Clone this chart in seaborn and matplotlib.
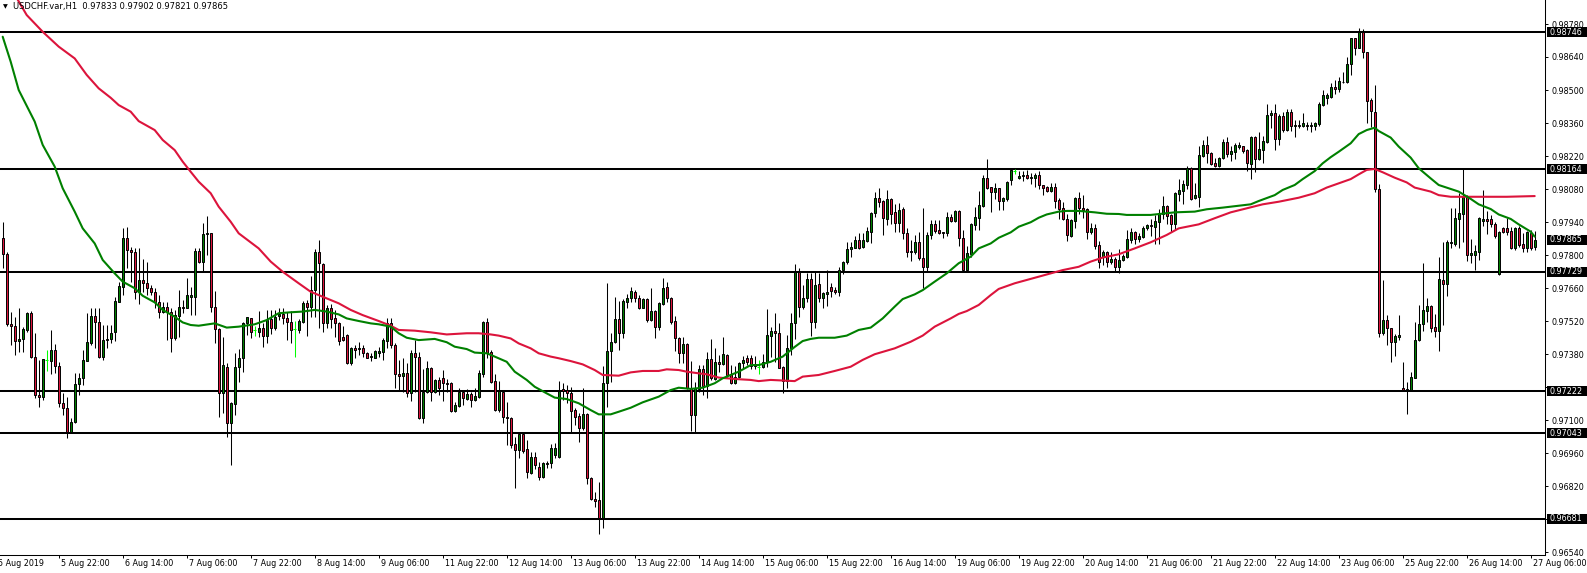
import numpy as np
import pandas as pd
import matplotlib
matplotlib.use("Agg")
import matplotlib.pyplot as plt
import matplotlib.transforms as mtransforms
from matplotlib.patches import Rectangle
import seaborn as sns

# ---------------- data: USDCHF H1, prices in points (1e-5) ----------------
POINT = 1e-5
symbol = "USDCHF.var,H1"

opens = [
 97871, 97803, 97506, 97500, 97435, 97444, 97482, 97553, 97369, 97206, 97196, 97355, 97352, 97397, 97330, 97171,
 97152, 97050, 97090, 97251, 97277, 97352, 97425, 97541, 97517, 97369, 97438, 97444, 97472, 97602, 97666, 97871,
 97821, 97814, 97642, 97694, 97683, 97659, 97644, 97602, 97557, 97579, 97560, 97446, 97543, 97579, 97574, 97623,
 97623, 97817, 97772, 97889, 97892, 97581, 97485, 97213, 97326, 97086, 97166, 97326, 97362, 97510, 97531, 97482,
 97472, 97489, 97458, 97528, 97492, 97543, 97550, 97534, 97517, 97486, 97482, 97517, 97595, 97578, 97651, 97811,
 97760, 97510, 97574, 97531, 97510, 97452, 97461, 97343, 97404, 97400, 97404, 97383, 97366, 97364, 97383, 97387,
 97435, 97510, 97418, 97297, 97288, 97298, 97213, 97383, 97369, 97107, 97220, 97322, 97220, 97270, 97277, 97258,
 97256, 97138, 97161, 97220, 97189, 97209, 97185, 97199, 97295, 97514, 97387, 97265, 97142, 97220, 97114, 97110,
 96997, 96973, 97039, 96977, 96874, 96944, 96902, 96860, 96912, 96916, 96951, 96944, 97232, 97227, 97213, 97142,
 97117, 97068, 97124, 96855, 96765, 96761, 96683, 97256, 97393, 97430, 97528, 97468, 97602, 97616, 97642, 97616,
 97577, 97613, 97524, 97562, 97496, 97591, 97663, 97616, 97520, 97449, 97383, 97421, 97237, 97121, 97232, 97316,
 97246, 97359, 97274, 97345, 97336, 97376, 97294, 97256, 97284, 97340, 97364, 97362, 97330, 97326, 97326, 97347,
 97458, 97477, 97468, 97326, 97265, 97404, 97510, 97726, 97581, 97616, 97698, 97514, 97676, 97619, 97633, 97666,
 97651, 97642, 97736, 97769, 97824, 97831, 97864, 97835, 97859, 97899, 97977, 98043, 98029, 97953, 98036, 97981,
 97934, 97995, 97892, 97817, 97811, 97856, 97786, 97750, 97885, 97930, 97906, 97896, 97892, 97963, 97944, 97987,
 97871, 97736, 97803, 97927, 97958, 98009, 98125, 98088, 98066, 98083, 98029, 98037, 98118, 98156, 98125, 98136,
 98139, 98127, 98128, 98139, 98097, 98090, 98071, 98090, 98033, 97998, 97953, 97882, 97944, 98043, 98001, 97995,
 97896, 97916, 97842, 97793, 97814, 97769, 97783, 97750, 97779, 97793, 97864, 97896, 97868, 97878, 97913, 97927,
 97920, 97941, 97974, 98009, 97970, 97930, 98059, 98071, 98097, 98168, 98040, 98047, 98221, 98267, 98231, 98190,
 98179, 98210, 98278, 98227, 98238, 98260, 98262, 98245, 98185, 98302, 98207, 98245, 98281, 98394, 98401, 98292,
 98391, 98330, 98405, 98347, 98351, 98349, 98351, 98349, 98349, 98357, 98436, 98467, 98472, 98514, 98504, 98532,
 98532, 98609, 98719, 98679, 98747, 98660, 98457, 98408, 98080, 97468, 97524, 97489, 97430, 97453, 97237, 97227,
 97227, 97280, 97439, 97506, 97562, 97584, 97496, 97477, 97694, 97676, 97849, 97845, 97953, 97972, 98047, 97800,
 97800, 97814, 97944, 97953, 97953, 97930, 97718, 97913, 97916, 97902, 97831, 97913, 97845, 97831, 97892, 97833,
]

highs = [
 97939, 97811, 97560, 97538, 97574, 97496, 97560, 97562, 97468, 97355, 97359, 97397, 97482, 97421, 97347, 97213,
 97199, 97110, 97298, 97298, 97397, 97553, 97574, 97574, 97577, 97503, 97503, 97503, 97623, 97687, 97916, 97919,
 97835, 97831, 97828, 97783, 97772, 97673, 97659, 97630, 97602, 97599, 97574, 97567, 97651, 97609, 97701, 97666,
 97828, 97828, 97934, 97965, 97892, 97647, 97489, 97453, 97340, 97178, 97383, 97400, 97514, 97538, 97531, 97500,
 97562, 97510, 97567, 97567, 97567, 97574, 97574, 97560, 97562, 97520, 97528, 97605, 97609, 97711, 97825, 97864,
 97765, 97588, 97591, 97567, 97517, 97500, 97463, 97411, 97418, 97432, 97418, 97390, 97383, 97397, 97411, 97446,
 97534, 97531, 97425, 97355, 97364, 97340, 97397, 97439, 97387, 97316, 97350, 97326, 97273, 97284, 97312, 97274,
 97263, 97178, 97237, 97227, 97232, 97220, 97237, 97312, 97520, 97534, 97397, 97294, 97265, 97223, 97178, 97114,
 97029, 97050, 97050, 97015, 96966, 96966, 96923, 96923, 96926, 96997, 97001, 97265, 97256, 97248, 97241, 97150,
 97128, 97234, 97128, 96860, 96796, 96838, 97330, 97680, 97468, 97623, 97605, 97613, 97633, 97666, 97651, 97630,
 97619, 97619, 97659, 97567, 97602, 97701, 97687, 97623, 97543, 97453, 97453, 97425, 97350, 97263, 97333, 97333,
 97390, 97444, 97404, 97376, 97453, 97379, 97333, 97330, 97347, 97373, 97376, 97376, 97373, 97355, 97379, 97571,
 97496, 97553, 97510, 97330, 97461, 97553, 97760, 97746, 97673, 97722, 97722, 97726, 97722, 97644, 97736, 97680,
 97666, 97750, 97774, 97854, 97856, 97882, 97892, 97892, 97920, 97984, 98066, 98086, 98033, 98076, 98043, 98015,
 98019, 98005, 97913, 97864, 97885, 97899, 98001, 97896, 97948, 97948, 97948, 97899, 97984, 97972, 97991, 97991,
 97906, 97840, 97934, 98005, 98071, 98139, 98207, 98090, 98104, 98086, 98047, 98114, 98165, 98165, 98156, 98156,
 98160, 98146, 98146, 98156, 98097, 98094, 98104, 98104, 98043, 98023, 97972, 97953, 98047, 98066, 98054, 98001,
 97934, 97930, 97859, 97821, 97817, 97811, 97793, 97825, 97803, 97906, 97913, 97902, 97892, 97924, 97930, 97953,
 97970, 97995, 98052, 98012, 97972, 98066, 98122, 98118, 98179, 98175, 98104, 98264, 98288, 98306, 98235, 98213,
 98217, 98292, 98302, 98264, 98274, 98278, 98264, 98250, 98306, 98306, 98320, 98306, 98439, 98415, 98439, 98397,
 98405, 98419, 98419, 98373, 98373, 98401, 98363, 98363, 98366, 98448, 98500, 98486, 98528, 98542, 98556, 98578,
 98641, 98722, 98722, 98764, 98759, 98662, 98464, 98521, 98100, 97694, 97545, 97492, 97463, 97545, 97345, 97263,
 97305, 97517, 97588, 97765, 97619, 97588, 97548, 97793, 97856, 97864, 98001, 98001, 98062, 98165, 98054, 97868,
 97842, 97963, 98076, 97987, 97970, 97939, 97902, 97919, 97956, 97920, 97920, 97924, 97892, 97902, 97906, 97902,
]

lows = [
 97743, 97500, 97418, 97376, 97387, 97387, 97475, 97362, 97192, 97157, 97185, 97308, 97294, 97298, 97157, 97121,
 97025, 97043, 97086, 97206, 97248, 97352, 97418, 97404, 97362, 97355, 97404, 97425, 97435, 97599, 97630, 97743,
 97687, 97613, 97591, 97644, 97630, 97630, 97574, 97531, 97553, 97439, 97390, 97439, 97453, 97553, 97574, 97545,
 97545, 97765, 97729, 97800, 97560, 97425, 97114, 97128, 97029, 96909, 97121, 97263, 97305, 97461, 97449, 97458,
 97453, 97411, 97425, 97463, 97482, 97524, 97506, 97439, 97425, 97369, 97468, 97510, 97458, 97538, 97538, 97489,
 97475, 97489, 97492, 97453, 97418, 97435, 97336, 97333, 97362, 97376, 97369, 97362, 97350, 97362, 97369, 97355,
 97404, 97404, 97237, 97227, 97220, 97199, 97181, 97220, 97104, 97086, 97213, 97181, 97213, 97206, 97181, 97220,
 97135, 97135, 97157, 97164, 97185, 97157, 97181, 97195, 97284, 97364, 97256, 97138, 97135, 97086, 96994, 96980,
 96810, 96937, 96959, 96855, 96869, 96892, 96845, 96855, 96895, 96895, 96937, 96940, 97185, 97171, 97043, 97079,
 97008, 97058, 96827, 96761, 96732, 96615, 96640, 97157, 97263, 97425, 97397, 97449, 97577, 97602, 97599, 97571,
 97574, 97514, 97520, 97446, 97482, 97588, 97602, 97506, 97393, 97340, 97340, 97232, 97053, 97043, 97217, 97206,
 97192, 97270, 97270, 97305, 97333, 97284, 97251, 97251, 97277, 97319, 97333, 97316, 97316, 97294, 97322, 97326,
 97369, 97347, 97319, 97213, 97237, 97376, 97444, 97538, 97571, 97599, 97458, 97489, 97599, 97574, 97585, 97623,
 97633, 97627, 97718, 97760, 97793, 97828, 97825, 97828, 97854, 97849, 97963, 98005, 97885, 97927, 97930, 97896,
 97896, 97868, 97793, 97774, 97803, 97779, 97659, 97732, 97868, 97892, 97888, 97871, 97882, 97941, 97939, 97840,
 97732, 97732, 97793, 97906, 97906, 98005, 98080, 97984, 98037, 97991, 97991, 98029, 98097, 98142, 98122, 98114,
 98122, 98100, 98090, 98080, 98054, 98066, 98066, 97998, 97953, 97948, 97859, 97878, 97916, 97972, 97958, 97868,
 97888, 97825, 97746, 97758, 97750, 97760, 97732, 97722, 97774, 97789, 97849, 97845, 97854, 97873, 97906, 97882,
 97845, 97845, 97953, 97930, 97896, 97906, 98029, 98015, 98080, 98033, 98037, 98005, 98217, 98189, 98182, 98175,
 98175, 98207, 98217, 98199, 98207, 98250, 98231, 98156, 98122, 98153, 98203, 98189, 98274, 98340, 98245, 98267,
 98323, 98326, 98326, 98302, 98337, 98344, 98330, 98323, 98330, 98349, 98433, 98439, 98467, 98481, 98490, 98528,
 98528, 98563, 98648, 98677, 98637, 98358, 98344, 98066, 97453, 97461, 97418, 97347, 97373, 97439, 97223, 97124,
 97223, 97277, 97435, 97478, 97517, 97475, 97453, 97393, 97503, 97627, 97828, 97840, 97828, 97856, 97774, 97765,
 97736, 97779, 97924, 97888, 97920, 97873, 97715, 97892, 97885, 97825, 97821, 97835, 97814, 97811, 97821, 97821,
]

closes = [
 97803, 97506, 97500, 97435, 97444, 97486, 97553, 97369, 97206, 97196, 97359, 97355, 97397, 97330, 97173, 97152,
 97050, 97090, 97251, 97277, 97355, 97430, 97541, 97517, 97369, 97439, 97444, 97468, 97605, 97668, 97871, 97821,
 97814, 97642, 97694, 97683, 97659, 97644, 97602, 97557, 97579, 97560, 97446, 97545, 97579, 97574, 97630, 97630,
 97817, 97772, 97889, 97892, 97581, 97485, 97213, 97333, 97086, 97173, 97323, 97362, 97510, 97535, 97475, 97482,
 97489, 97458, 97524, 97492, 97538, 97550, 97534, 97517, 97482, 97486, 97520, 97595, 97578, 97651, 97811, 97765,
 97510, 97574, 97528, 97510, 97435, 97439, 97340, 97404, 97397, 97404, 97383, 97364, 97373, 97393, 97393, 97439,
 97510, 97418, 97294, 97288, 97298, 97213, 97383, 97369, 97107, 97220, 97319, 97220, 97270, 97237, 97256, 97251,
 97138, 97164, 97220, 97192, 97209, 97185, 97202, 97298, 97514, 97383, 97263, 97142, 97223, 97114, 97110, 96994,
 96973, 97039, 96970, 96878, 96944, 96909, 96860, 96916, 96919, 96980, 96983, 97223, 97223, 97213, 97138, 97114,
 97068, 97124, 96855, 96765, 96756, 96686, 97256, 97393, 97430, 97528, 97468, 97605, 97616, 97647, 97616, 97577,
 97613, 97524, 97562, 97496, 97595, 97659, 97616, 97517, 97449, 97383, 97421, 97237, 97121, 97234, 97316, 97246,
 97359, 97277, 97347, 97336, 97379, 97291, 97256, 97284, 97340, 97355, 97347, 97330, 97336, 97326, 97347, 97461,
 97477, 97468, 97322, 97265, 97404, 97510, 97726, 97581, 97619, 97698, 97514, 97673, 97619, 97637, 97644, 97647,
 97642, 97736, 97769, 97825, 97835, 97864, 97831, 97864, 97902, 97977, 98043, 98026, 97956, 98036, 97972, 97934,
 97991, 97892, 97811, 97811, 97856, 97789, 97750, 97885, 97930, 97902, 97892, 97892, 97963, 97944, 97987, 97871,
 97736, 97807, 97930, 97963, 98012, 98128, 98083, 98066, 98083, 98029, 98043, 98108, 98160, 98156, 98135, 98139,
 98128, 98129, 98139, 98097, 98086, 98071, 98090, 98029, 97995, 97953, 97885, 97948, 98043, 98001, 97991, 97896,
 97913, 97840, 97769, 97811, 97769, 97783, 97750, 97779, 97797, 97868, 97896, 97868, 97882, 97916, 97927, 97921,
 97944, 97977, 98009, 97967, 97930, 98062, 98076, 98100, 98168, 98037, 98054, 98224, 98267, 98231, 98185, 98179,
 98213, 98278, 98227, 98241, 98267, 98267, 98241, 98189, 98302, 98207, 98250, 98283, 98394, 98401, 98292, 98391,
 98330, 98405, 98349, 98351, 98347, 98358, 98347, 98351, 98360, 98439, 98479, 98479, 98514, 98504, 98538, 98535,
 98609, 98719, 98679, 98747, 98660, 98453, 98411, 98080, 97468, 97524, 97489, 97430, 97458, 97461, 97227, 97232,
 97284, 97439, 97506, 97567, 97584, 97492, 97477, 97698, 97676, 97856, 97856, 97956, 97977, 98047, 97800, 97807,
 97817, 97958, 97953, 97944, 97930, 97882, 97896, 97899, 97896, 97831, 97913, 97842, 97831, 97896, 97828, 97865,
]

# moving averages (bar index, value in points)
green_ma_bars = [0, 2, 4, 8, 10, 13, 15, 18, 20, 23, 25, 28, 30, 33, 35, 38, 40, 43, 45, 47, 49, 53, 56, 59, 63,
                 66, 69, 72, 75, 78, 81, 84, 86, 89, 92, 94, 97, 99, 101, 104, 108, 111, 113, 116, 118, 121, 123,
                 126, 128, 131, 133, 136, 138, 141, 144, 147, 149, 152, 154, 157, 160, 164, 167, 169, 172, 175, 178,
                 180, 184, 187, 189, 192, 195, 198, 200, 202, 204, 208, 211, 214, 217, 220, 223, 225, 228, 230, 233,
                 236, 239, 242, 244, 247, 249, 252, 254, 257, 259, 261, 264, 266, 269, 273, 276, 279, 281, 287, 293,
                 298, 301, 305, 309, 312, 314, 318, 320, 323, 325, 328, 330, 332, 334, 337, 339, 341, 343, 344, 347,
                 349, 352, 354, 357, 359, 362, 364, 367, 369, 372, 374, 377, 379, 382, 383]
green_ma_vals = [98726, 98620, 98500, 98366, 98267, 98175, 98083, 97984, 97913, 97849, 97779, 97722, 97687, 97659,
                 97627, 97599, 97567, 97538, 97514, 97503, 97500, 97510, 97492, 97496, 97506, 97524, 97553, 97557,
                 97560, 97567, 97560, 97548, 97531, 97520, 97510, 97506, 97496, 97468, 97449, 97439, 97444, 97430,
                 97411, 97401, 97386, 97383, 97369, 97347, 97305, 97270, 97241, 97213, 97195, 97189, 97171, 97142,
                 97124, 97124, 97135, 97152, 97175, 97199, 97227, 97237, 97232, 97237, 97256, 97277, 97305, 97333,
                 97333, 97347, 97369, 97410, 97435, 97444, 97449, 97449, 97458, 97482, 97492, 97531, 97581, 97613,
                 97633, 97651, 97687, 97722, 97765, 97793, 97828, 97849, 97873, 97896, 97920, 97939, 97958, 97972,
                 97984, 97987, 97987, 97981, 97975, 97974, 97970, 97970, 97981, 97984, 97994, 98001, 98009, 98015,
                 98029, 98054, 98076, 98097, 98122, 98156, 98189, 98215, 98238, 98274, 98313, 98330, 98340, 98326,
                 98298, 98260, 98213, 98168, 98125, 98097, 98080, 98069, 98038, 98015, 97995, 97972, 97953, 97930,
                 97899, 97878]

red_ma_bars = [3, 6, 10, 14, 18, 21, 24, 27, 29, 32, 34, 38, 40, 43, 45, 47, 49, 52, 54, 57, 59, 64, 67, 70, 74,
               77, 80, 84, 87, 90, 94, 97, 99, 103, 107, 111, 116, 119, 122, 124, 127, 129, 132, 134, 137, 139, 142,
               145, 148, 150, 154, 157, 160, 164, 166, 169, 171, 174, 176, 179, 181, 184, 187, 189, 192, 198, 200,
               204, 208, 212, 215, 218, 223, 227, 230, 233, 237, 239, 241, 244, 247, 249, 253, 256, 259, 262, 265,
               269, 272, 275, 279, 283, 287, 291, 294, 299, 303, 307, 311, 315, 319, 324, 328, 331, 334, 337, 339,
               341, 343, 345, 348, 351, 353, 357, 359, 362, 376, 383]
red_ma_vals = [98905, 98818, 98747, 98684, 98634, 98564, 98507, 98467, 98436, 98408, 98368, 98330, 98288, 98245,
               98196, 98153, 98111, 98062, 98005, 97941, 97892, 97828, 97772, 97729, 97680, 97644, 97623, 97595,
               97567, 97545, 97520, 97500, 97482, 97479, 97472, 97463, 97468, 97468, 97463, 97458, 97446, 97425,
               97404, 97383, 97369, 97362, 97350, 97336, 97312, 97291, 97288, 97302, 97308, 97308, 97315, 97312,
               97305, 97298, 97294, 97280, 97277, 97273, 97270, 97265, 97270, 97265, 97284, 97291, 97308, 97326,
               97355, 97379, 97404, 97432, 97458, 97496, 97531, 97550, 97562, 97588, 97630, 97656, 97680, 97694,
               97708, 97722, 97736, 97750, 97772, 97789, 97803, 97828, 97854, 97885, 97913, 97930, 97956, 97981,
               97998, 98015, 98026, 98043, 98062, 98086, 98104, 98122, 98142, 98161, 98165, 98151, 98128, 98108,
               98086, 98069, 98054, 98047, 98047, 98050]

level_prices = [0.98746, 0.98164, 0.97729, 0.97222, 0.97043, 0.96681]
price_ticks = [0.98780, 0.98640, 0.98500, 0.98360, 0.98220, 0.98080, 0.97940, 0.97800, 0.97660,
               0.97520, 0.97380, 0.97240, 0.97100, 0.96960, 0.96820, 0.96680, 0.96540]
first_date_label = "5 Aug 2019"
date_labels = ["5 Aug 22:00", "6 Aug 14:00", "7 Aug 06:00", "7 Aug 22:00", "8 Aug 14:00", "9 Aug 06:00",
               "11 Aug 22:00", "12 Aug 14:00", "13 Aug 06:00", "13 Aug 22:00", "14 Aug 14:00", "15 Aug 06:00",
               "15 Aug 22:00", "16 Aug 14:00", "19 Aug 06:00", "19 Aug 22:00", "20 Aug 14:00", "21 Aug 06:00",
               "21 Aug 22:00", "22 Aug 14:00", "23 Aug 06:00", "25 Aug 22:00", "26 Aug 14:00", "27 Aug 06:00"]
first_labelled_bar = 14
bars_per_label = 16

# ---------------- drawing ----------------
sns.set_style("white")
plt.rcParams["font.family"] = ["DejaVu Sans"]

W, H = 1587, 573
fig = plt.figure(figsize=(W / 100, H / 100), dpi=100, facecolor="white")
ax_right_px, ax_bottom_px = 1545, 555
ax = fig.add_axes([0, 1 - ax_bottom_px / H, ax_right_px / W, ax_bottom_px / H])
ax.set_facecolor("white")

o = np.array(opens) * POINT
h = np.array(highs) * POINT
l = np.array(lows) * POINT
c = np.array(closes) * POINT
n = len(c)
idx = np.arange(n)
up = c > o
down = c < o
doji = c == o

BULL = "#008000"
BEAR = "#DC143C"
DOJI = "#00FF00"
body_w = 0.55

# horizontal support / resistance levels
for lv in level_prices:
    ax.axhline(lv, color="black", lw=1.45, zorder=2)

# wicks
ax.vlines(idx[~doji], l[~doji], h[~doji], color="black", lw=0.75, zorder=3)
ax.vlines(idx[doji], l[doji], h[doji], color=DOJI, lw=0.75, zorder=3)
ax.hlines(c[doji], idx[doji] - 0.4, idx[doji] + 0.4, color=DOJI, lw=0.75, zorder=3)
# bodies
ax.bar(idx[up], (c - o)[up], bottom=o[up], width=body_w, color=BULL,
       edgecolor="black", linewidth=0.7, zorder=4)
ax.bar(idx[down], (o - c)[down], bottom=c[down], width=body_w, color=BEAR,
       edgecolor="black", linewidth=0.7, zorder=4)

# moving averages
gdf = pd.DataFrame({"bar": green_ma_bars, "price": np.array(green_ma_vals) * POINT})
rdf = pd.DataFrame({"bar": red_ma_bars, "price": np.array(red_ma_vals) * POINT})
sns.lineplot(data=rdf, x="bar", y="price", ax=ax, color=BEAR, lw=1.5, estimator=None, sort=False, zorder=5)
sns.lineplot(data=gdf, x="bar", y="price", ax=ax, color=BULL, lw=1.5, estimator=None, sort=False, zorder=5)

# scales
px_per_bar = 4.0
bar0_px = 2.7
ax.set_xlim(-bar0_px / px_per_bar, (ax_right_px - bar0_px) / px_per_bar)
tick_step = price_ticks[0] - price_ticks[1]
px_per_step = 33.0
top_px = 24.0
ymax = price_ticks[0] + top_px / px_per_step * tick_step
ymin = price_ticks[0] - (ax_bottom_px - top_px) / px_per_step * tick_step
ax.set_ylim(ymin, ymax)
ax.set_xlabel("")
ax.set_ylabel("")

for s in ["top", "left"]:
    ax.spines[s].set_visible(False)
for s in ["right", "bottom"]:
    ax.spines[s].set_color("black")
    ax.spines[s].set_linewidth(0.75)

# right price axis (labels that sit under a level box are hidden, as in the terminal)
box_h = 10 / px_per_step * tick_step
shown = [f"{v:.5f}" if min(abs(v - lv) for lv in level_prices) > 0.55 * box_h else "" for v in price_ticks]
ax.yaxis.tick_right()
ax.set_yticks(price_ticks)
ax.set_yticklabels(shown)
ax.tick_params(axis="y", which="both", right=True, left=False, length=2, width=0.7,
               pad=2.5, labelsize=5.8, colors="black")

# bottom time axis
date_bars = [first_labelled_bar + bars_per_label * k for k in range(len(date_labels))]
ax.set_xticks(date_bars)
ax.set_xticklabels([])
ax.tick_params(axis="x", which="both", bottom=True, length=2.2, width=0.7, colors="black")
tx = mtransforms.blended_transform_factory(ax.transData, ax.transAxes)
off = mtransforms.ScaledTranslation(2 / 100, -4 / 100, fig.dpi_scale_trans)
for b, lab in zip(date_bars, date_labels):
    ax.text(b, 0, lab, transform=tx + off, ha="left", va="top", fontsize=5.8,
            color="black", clip_on=False)
off0 = mtransforms.ScaledTranslation(-5 / 100, -4 / 100, fig.dpi_scale_trans)
ax.text(0, 0, first_date_label, transform=tx + off0, ha="left", va="top", fontsize=5.8,
        color="black", clip_on=False)

# black price boxes on the right scale
tb = mtransforms.blended_transform_factory(fig.transFigure, ax.transData)
for lv in level_prices + [c[-1]]:
    ax.add_patch(Rectangle((1547 / W, lv - box_h / 2), (W - 1547) / W, box_h, transform=tb,
                           facecolor="black", edgecolor="none", clip_on=False, zorder=20))
    ax.text(1550 / W, lv, f"{lv:.5f}", transform=tb, color="white", fontsize=5.8,
            ha="left", va="center", clip_on=False, zorder=21)

# header
fig.text(3 / W, 1 - 7 / H, "\u25BC", fontsize=4.5, va="center", ha="left", color="black")
fig.text(13 / W, 1 - 7 / H, f"{symbol}  {o[-1]:.5f} {h[-1]:.5f} {l[-1]:.5f} {c[-1]:.5f}",
         fontsize=6.0, va="center", ha="left", color="black")

fig.savefig("out.png", dpi=100, facecolor="white")
